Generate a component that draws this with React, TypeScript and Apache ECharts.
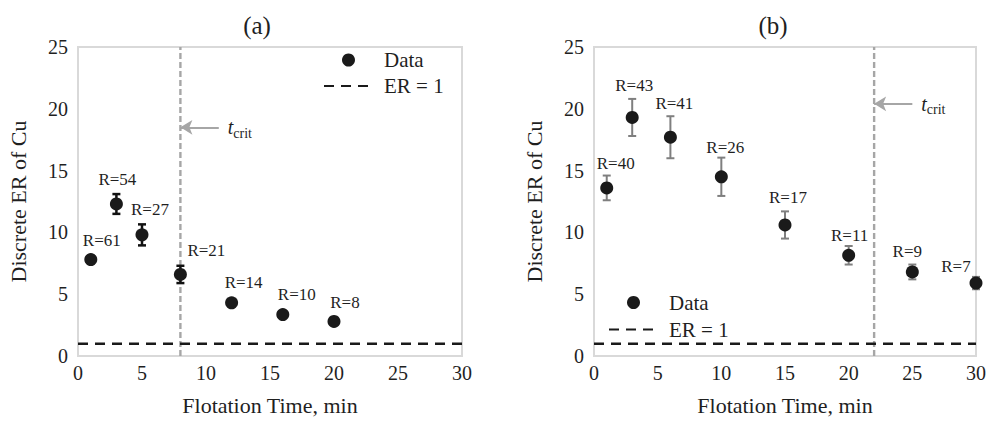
import React, { useEffect, useRef } from "react";
import * as echarts from "echarts";

// Panel (a)
const timesA = [1, 3, 5, 8, 12, 16, 20];
const erA = [7.8, 12.3, 9.8, 6.6, 4.3, 3.35, 2.8];
const errA = [0.3, 0.8, 0.85, 0.7, 0.25, 0.12, 0.1];
const rA = [61, 54, 27, 21, 14, 10, 8];
const tCritA = 8;
const arrowYA = 18.5;

// Panel (b)
const timesB = [1, 3, 6, 10, 15, 20, 25, 30];
const erB = [13.6, 19.3, 17.7, 14.5, 10.6, 8.15, 6.8, 5.9];
const errB = [1.0, 1.5, 1.7, 1.55, 1.1, 0.75, 0.6, 0.5];
const rB = [40, 43, 41, 26, 17, 11, 9, 7];
const tCritB = 22;
const arrowYB = 20.4;

const erLine = [0, 30];
const erLevel = 1;
const yRange = [0, 25];
const xTicks = { min: 0, max: 30, interval: 5 };
const yTicks = { min: 0, max: 25, interval: 5 };

// label offsets (px) relative to the marker centre
const labelOffA = [[11, -19], [1, -24], [8, -25], [26, -24], [12, -20], [14, -20], [11, -19]];
const labelOffB = [[9, -24], [2, -32], [4, -34], [4, -29], [3, -27], [1, -20], [-5, -20], [-20, -17]];

const SERIF = "Liberation Serif";
const TXT = "#1f1f1f";
const GRAYLINE = "#a6a6a6";

function errorBarSeries(idx: number, xs: number[], ys: number[], es: number[], color: string, width: number) {
  return {
    type: "custom",
    name: "err" + idx,
    xAxisIndex: idx,
    yAxisIndex: idx,
    z: 3,
    clip: false,
    data: xs.map((x, i) => [x, ys[i] - es[i], ys[i] + es[i]]),
    encode: { x: 0, y: [1, 2] },
    renderItem: (params: any, api: any) => {
      const x = api.value(0);
      const top = api.coord([x, api.value(2)]);
      const bot = api.coord([x, api.value(1)]);
      const w = 4;
      const style = { stroke: color, lineWidth: width };
      return {
        type: "group",
        children: [
          { type: "line", shape: { x1: top[0], y1: top[1], x2: bot[0], y2: bot[1] }, style },
          { type: "line", shape: { x1: top[0] - w, y1: top[1], x2: top[0] + w, y2: top[1] }, style },
          { type: "line", shape: { x1: bot[0] - w, y1: bot[1], x2: bot[0] + w, y2: bot[1] }, style },
        ],
      };
    },
  };
}

function critSeries(idx: number, tCrit: number) {
  return {
    type: "line",
    name: "tcrit" + idx,
    xAxisIndex: idx,
    yAxisIndex: idx,
    z: 2,
    symbol: "none",
    silent: true,
    lineStyle: { color: GRAYLINE, width: 2.4, type: [6, 3] },
    data: yRange.map((y) => [tCrit, y]),
  };
}

function dataSeries(idx: number, xs: number[], ys: number[], rs: number[], offs: number[][], tCrit: number, arrowY: number) {
  return {
    type: "scatter",
    name: "Data",
    xAxisIndex: idx,
    yAxisIndex: idx,
    z: 4,
    clip: false,
    symbol: "circle",
    symbolSize: 13,
    itemStyle: { color: "#1a1a1a", opacity: 1 },
    data: xs.map((x, i) => ({
      value: [x, ys[i]],
      label: { offset: offs[i] },
    })),
    label: {
      show: true,
      position: "inside",
      formatter: (p: any) => "R=" + rs[p.dataIndex],
      color: TXT,
      fontFamily: SERIF,
      fontSize: 17,
    },
    markLine: {
      silent: true,
      animation: false,
      symbol: ["none", "arrow"],
      symbolSize: [11, 12],
      label: { show: false },
      lineStyle: { color: GRAYLINE, width: 2, type: "solid", opacity: 1 },
      data: [
        [
          { coord: [tCrit + 3, arrowY] },
          { coord: [tCrit, arrowY] },
        ],
      ],
    },
    markPoint: {
      silent: true,
      animation: false,
      symbol: "circle",
      symbolSize: 0,
      itemStyle: { color: "transparent" },
      label: {
        show: true,
        position: "right",
        distance: 0,
        formatter: "{t|t}{s|crit}",
        rich: {
          t: { fontFamily: SERIF, fontStyle: "italic", fontSize: 20, color: TXT },
          s: { fontFamily: SERIF, fontSize: 14, color: TXT, padding: [12, 0, 0, 0] },
        },
      },
      data: [{ coord: [tCrit + 3.7, arrowY] }],
    },
  };
}

function erSeries(idx: number) {
  return {
    type: "line",
    name: "ER = 1",
    xAxisIndex: idx,
    yAxisIndex: idx,
    z: 2,
    symbol: "none",
    itemStyle: { color: "transparent" },
    lineStyle: { color: "#1a1a1a", width: 2.5, type: [10, 7] },
    data: erLine.map((x) => [x, erLevel]),
  };
}

function xAxis(idx: number) {
  return {
    type: "value",
    gridIndex: idx,
    ...xTicks,
    name: "Flotation Time, min",
    nameLocation: "middle",
    nameGap: 38,
    nameTextStyle: { fontFamily: SERIF, fontSize: 22, color: TXT },
    axisLine: { show: false },
    axisTick: { show: false },
    splitLine: { show: false },
    axisLabel: { fontFamily: SERIF, fontSize: 20, color: TXT, margin: 7 },
  };
}

function yAxis(idx: number) {
  return {
    type: "value",
    gridIndex: idx,
    ...yTicks,
    name: "Discrete ER of Cu",
    nameLocation: "middle",
    nameGap: 49,
    nameTextStyle: { fontFamily: SERIF, fontSize: 22, color: TXT },
    axisLine: { show: false },
    axisTick: { show: false },
    splitLine: { show: false },
    axisLabel: { fontFamily: SERIF, fontSize: 20, color: TXT, margin: 10 },
  };
}

function legend(left: number, top: number, lineHeight: number) {
  return {
    orient: "vertical",
    left,
    top,
    itemWidth: 49,
    itemHeight: 13,
    itemGap: 0,
    selectedMode: false,
    data: ["Data", "ER = 1"],
    textStyle: { fontFamily: SERIF, fontSize: 21, color: TXT, lineHeight, padding: [0, 0, 0, 6] },
  };
}

export default function App() {
  const ref = useRef<HTMLDivElement>(null);
  useEffect(() => {
    if (!ref.current) return;
    const chart = echarts.init(ref.current, undefined, { renderer: "svg" });
    chart.setOption({
      animation: false,
      backgroundColor: "#ffffff",
      textStyle: { fontFamily: SERIF },
      grid: [
        { left: 78, top: 47, width: 384, height: 314, show: true, borderColor: "#d9d9d9", borderWidth: 2, backgroundColor: "transparent" },
        { left: 594, top: 47, width: 384, height: 314, show: true, borderColor: "#d9d9d9", borderWidth: 2, backgroundColor: "transparent" },
      ],
      xAxis: [xAxis(0), xAxis(1)],
      yAxis: [yAxis(0), yAxis(1)],
      legend: [legend(318, 42, 26), legend(603, 284, 27)],
      graphic: [
        { type: "text", x: 257, y: 25, style: { text: "(a)", fontFamily: SERIF, fontSize: 25, fill: TXT, textAlign: "center", textVerticalAlign: "middle" } },
        { type: "text", x: 773, y: 25, style: { text: "(b)", fontFamily: SERIF, fontSize: 25, fill: TXT, textAlign: "center", textVerticalAlign: "middle" } },
      ],
      series: [
        critSeries(0, tCritA),
        erSeries(0),
        errorBarSeries(0, timesA, erA, errA, "#111111", 2.5),
        dataSeries(0, timesA, erA, rA, labelOffA, tCritA, arrowYA),
        critSeries(1, tCritB),
        erSeries(1),
        errorBarSeries(1, timesB, erB, errB, "#7f7f7f", 2),
        dataSeries(1, timesB, erB, rB, labelOffB, tCritB, arrowYB),
      ],
    });
    return () => chart.dispose();
  }, []);
  return <div ref={ref} style={{ position: "fixed", left: 0, top: 0, width: 989, height: 421 }} />;
}
